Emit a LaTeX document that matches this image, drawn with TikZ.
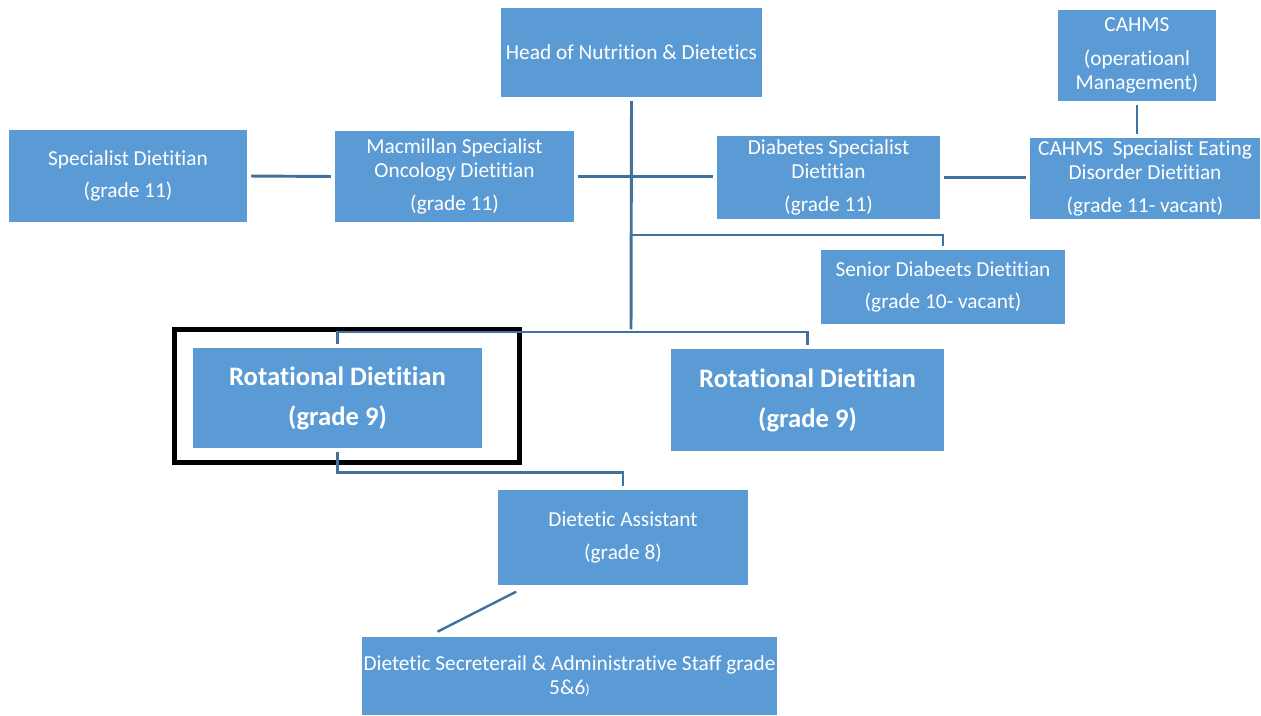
\documentclass[tikz,border=0pt]{standalone}
\usepackage{fontspec}
\setmainfont{Carlito}[Ligatures={NoCommon,NoContextual,NoRare},Contextuals=NoAlternate]
\usepackage{tikz}
\usetikzlibrary{positioning}

\definecolor{boxblue}{HTML}{5B9BD5}
\definecolor{lineblue}{HTML}{41719C}

\begin{document}
\begin{tikzpicture}
	[x=0.75pt,y=-0.75pt,line width=2.2pt,
		post/.style={rectangle,fill=boxblue,text=white,align=center,inner sep=0pt,font=\fontsize{16}{17.6}\selectfont},
		big post/.style={post,font=\bfseries\fontsize{20}{22}\selectfont},
		link/.style={draw=lineblue,shorten >=2pt,shorten <=2pt}]

	\useasboundingbox (0,0) rectangle (1261,715);

	\node[post,minimum width=195.75pt,minimum height=66.75pt] (head) at (631.5,52.5) {Head of Nutrition \& Dietetics};
	\node[post,minimum width=118.5pt,minimum height=68.25pt] (cahms) at (1137,55.5) {CAHMS\\[8pt](operatioanl\\Management)};
	\node[post,minimum width=178.5pt,minimum height=69pt] (spec) at (128,176) {Specialist Dietitian\\[7pt](grade 11)};
	\node[post,minimum width=179.25pt,minimum height=68.25pt] (mac) at (454.5,176.5) {Macmillan Specialist\\Oncology Dietitian\\[7pt](grade 11)};
	\node[post,minimum width=167.25pt,minimum height=62.25pt] (diab) at (828.5,177.5) {Diabetes Specialist\\Dietitian\\[7pt](grade 11)};
	\node[post,minimum width=172.5pt,minimum height=60.75pt] (eat) at (1145,178.5) {CAHMS\ \ Specialist Eating\\Disorder Dietitian\\[7pt](grade 11- vacant)};
	\node[post,minimum width=183pt,minimum height=55.5pt] (senior) at (943,287) {Senior Diabeets Dietitian\\[7pt](grade 10- vacant)};
	\node[big post,minimum width=216.75pt,minimum height=75pt] (rotL) at (337.5,398) {Rotational Dietitian\\[8pt](grade 9)};
	\node[big post,minimum width=204.75pt,minimum height=76.5pt] (rotR) at (807.5,400) {Rotational Dietitian\\[8pt](grade 9)};
	\node[post,minimum width=187.5pt,minimum height=71.25pt] (asst) at (623,537.5) {Dietetic Assistant\\[7pt](grade 8)};
	\node[post,minimum width=311.25pt,minimum height=58.5pt] (sec) at (569.5,676) {Dietetic Secreterail \& Administrative Staff grade\\5\&6{\fontsize{11}{12}\selectfont)}};

	% highlight round the first rotational post
	\node[draw=black,line width=3.8pt,minimum width=258.75pt,minimum height=99.4pt] (mark) at (347,396) {};

	\coordinate (j1) at (631,235);
	\coordinate (j2) at (631,332);

	\draw[link] (head.south) -- (j2);
	\draw[link] (spec.east) -- (mac.west);
	\draw[link] (mac.east) -- (mac.east -| diab.west);
	\draw[link] (diab.east) -- (diab.east -| eat.west);
	\draw[link] (cahms.south) -- (cahms.south |- eat.north);
	\draw[link,shorten <=0pt] (j1) -| (senior.north);
	\draw[link] (rotL.north) |- (j2) -| (rotR.north);
	\draw[link] (rotL.south) -- ++(0,23) -| (asst.north);
	\draw[link,line width=1.8pt] ([xshift=16.5pt,yshift=-3pt]asst.south west) -- ([xshift=56pt,yshift=2pt]sec.north west);

\end{tikzpicture}
\end{document}
